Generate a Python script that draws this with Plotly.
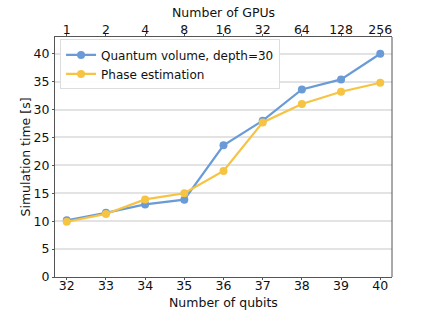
import plotly.graph_objects as go

qubits = [32, 33, 34, 35, 36, 37, 38, 39, 40]
gpus = ["1", "2", "4", "8", "16", "32", "64", "128", "256"]
qv_time = [10.15, 11.5, 13.0, 13.85, 23.6, 28.0, 33.6, 35.4, 40.0]
pe_time = [9.9, 11.3, 13.9, 15.0, 19.0, 27.7, 31.0, 33.2, 34.8]

blue = "#6a9bd6"
yellow = "#f6c343"
font = "DejaVu Sans"
fs = 12.5

fig = go.Figure()
fig.add_trace(go.Scatter(x=qubits, y=qv_time, mode="lines+markers",
                         name="Quantum volume, depth=30",
                         line=dict(color=blue, width=2.2),
                         marker=dict(color=blue, size=8)))
fig.add_trace(go.Scatter(x=qubits, y=pe_time, mode="lines+markers",
                         name="Phase estimation",
                         line=dict(color=yellow, width=2.2),
                         marker=dict(color=yellow, size=8)))
# invisible trace for top axis
fig.add_trace(go.Scatter(x=qubits, y=qv_time, xaxis="x2", mode="markers",
                         marker=dict(opacity=0), showlegend=False, hoverinfo="skip"))

axis_common = dict(showline=True, linecolor="#555555", linewidth=1, mirror=False,
                   ticks="outside", ticklen=2, tickcolor="#555555", automargin=False,
                   tickfont=dict(family=font, size=fs, color="#111111"))

fig.update_layout(
    width=436, height=312,
    margin=dict(l=55, r=44, t=37, b=35),
    paper_bgcolor="white", plot_bgcolor="white",
    font=dict(family=font, size=fs, color="#111111"),
    xaxis=dict(range=[31.7, 40.3], tickvals=qubits, ticktext=[str(q) for q in qubits],
               showgrid=False, zeroline=False, ticklabelstandoff=-5, **axis_common),
    xaxis2=dict(range=[31.7, 40.3], overlaying="x", side="top", tickvals=qubits,
                ticktext=gpus, showgrid=False, zeroline=False, ticklabelstandoff=-5,
                **axis_common),
    yaxis=dict(range=[0, 43], tickvals=[0, 5, 10, 15, 20, 25, 30, 35, 40],
               showgrid=True, gridcolor="#e3e3e3", gridwidth=1.5, zeroline=False,
               ticklabelstandoff=0, **axis_common),
    legend=dict(x=0.015, y=0.99, xanchor="left", yanchor="top",
                bgcolor="rgba(255,255,255,0.9)", bordercolor="#dddddd", borderwidth=1,
                font=dict(family=font, size=12), tracegroupgap=0, itemwidth=30),
    showlegend=True,
    annotations=[
        dict(text="Number of GPUs", xref="paper", yref="paper", x=0.5, y=(277 - 13) / 240,
             xanchor="center", yanchor="middle", showarrow=False, font=dict(family=font, size=fs)),
        dict(text="Number of qubits", xref="paper", yref="paper", x=0.5, y=(277 - 302) / 240,
             xanchor="center", yanchor="middle", showarrow=False, font=dict(family=font, size=fs)),
        dict(text="Simulation time [s]", xref="paper", yref="paper", x=(24.5 - 55) / 337,
             y=0.5, xanchor="center", yanchor="middle", textangle=-90, showarrow=False,
             font=dict(family=font, size=fs)),
    ],
)
# right frame line
fig.add_shape(type="line", xref="paper", yref="paper", x0=1, x1=1, y0=0, y1=1,
              line=dict(color="#555555", width=1))

fig.write_html("out.html", config={"displayModeBar": False},
               post_script="document.body.style.margin='0';")
